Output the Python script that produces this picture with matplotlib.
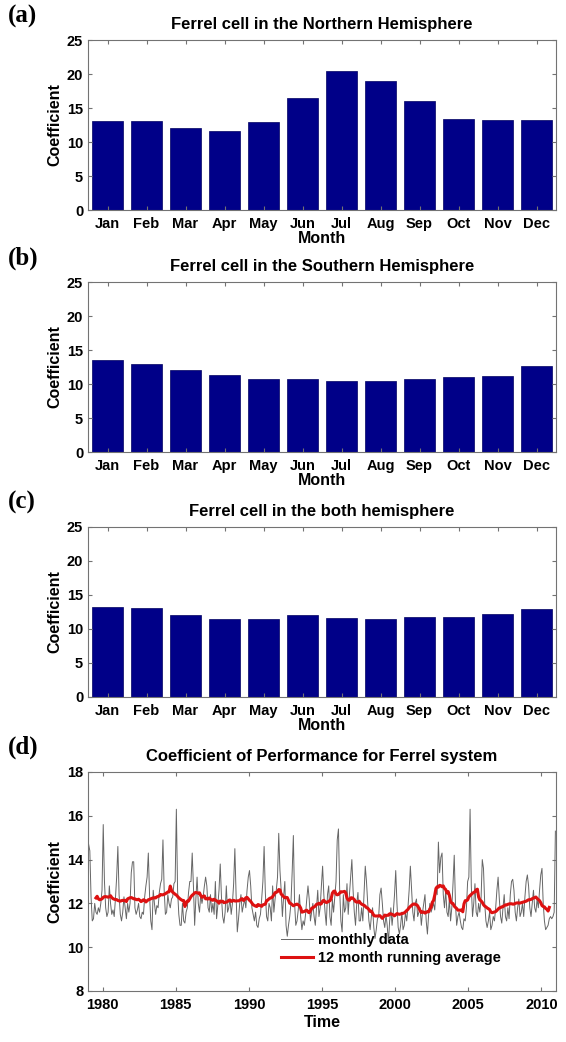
import numpy as np
import pandas as pd
import matplotlib
matplotlib.use("Agg")
import matplotlib.pyplot as plt

months = ["Jan", "Feb", "Mar", "Apr", "May", "Jun", "Jul", "Aug", "Sep", "Oct", "Nov", "Dec"]
nh = [13.1, 13.1, 12.0, 11.6, 13.0, 16.4, 20.4, 18.9, 16.0, 13.4, 13.3, 13.3]
sh = [13.5, 13.0, 12.0, 11.3, 10.8, 10.8, 10.4, 10.4, 10.7, 11.1, 11.2, 12.7]
both = [13.2, 13.1, 12.0, 11.4, 11.5, 12.0, 11.6, 11.4, 11.7, 11.8, 12.2, 13.0]

start_year = 1979
# monthly coefficient, Jan 1979 - Dec 2010 (one row per year)
monthly = [
    14.7, 14.4, 12.3, 11.2, 11.3, 12.0, 11.6, 11.5, 11.8, 11.6, 12.0, 12.6,
    15.6, 13.0, 11.8, 11.4, 11.6, 12.8, 12.0, 11.5, 11.7, 11.4, 12.2, 13.2,
    14.6, 12.4, 11.5, 11.2, 11.6, 12.3, 11.8, 11.3, 12.0, 11.6, 12.0, 13.4,
    13.9, 13.9, 11.8, 11.5, 11.7, 12.0, 11.4, 11.3, 11.6, 11.5, 12.3, 12.8,
    13.2, 14.3, 12.4, 11.2, 10.8, 12.6, 12.0, 11.5, 11.9, 11.8, 12.5, 12.9,
    13.1, 14.9, 12.6, 11.5, 11.6, 12.4, 12.0, 11.8, 12.2, 12.3, 12.9, 13.0,
    16.3, 12.6, 11.5, 11.0, 11.0, 12.0, 11.2, 11.1, 11.6, 11.8, 12.5, 13.0,
    13.0, 14.3, 12.8, 11.0, 12.2, 13.2, 12.0, 11.6, 12.4, 12.0, 12.3, 12.8,
    13.2, 12.8, 11.8, 11.6, 12.4, 11.6, 12.0, 11.5, 13.0, 11.3, 11.9, 12.6,
    13.8, 12.3, 11.4, 11.1, 11.6, 12.8, 11.6, 11.8, 12.2, 11.5, 12.0, 12.9,
    14.5, 12.4, 10.7, 11.3, 12.0, 12.4, 11.6, 11.9, 12.2, 11.8, 12.6, 13.2,
    13.5, 12.8, 11.8, 11.5, 11.2, 11.6, 11.0, 10.9, 11.3, 11.5, 12.2, 13.0,
    14.6, 12.5, 11.4, 11.2, 12.0, 11.8, 11.2, 12.8, 11.6, 12.2, 12.6, 13.2,
    15.2, 13.5, 12.6, 11.4, 12.3, 13.0, 11.0, 10.5, 11.0, 11.4, 12.0, 13.4,
    15.1, 12.0, 11.0, 11.2, 11.7, 12.4, 11.4, 10.8, 11.2, 11.0, 11.5, 12.2,
    12.8, 12.2, 11.2, 11.6, 12.0, 11.4, 11.0, 11.8, 12.6, 11.4, 11.8, 12.8,
    13.7, 12.4, 11.6, 11.0, 12.4, 12.8, 11.4, 11.0, 12.2, 11.6, 12.3, 13.0,
    14.9, 15.4, 12.6, 11.2, 10.7, 12.4, 11.6, 11.8, 12.9, 11.5, 12.4, 13.2,
    14.0, 12.6, 11.6, 11.0, 12.0, 12.5, 11.2, 11.2, 11.8, 11.2, 12.4, 13.7,
    13.0, 12.0, 11.2, 10.8, 11.4, 11.8, 10.9, 10.4, 10.8, 11.3, 11.4, 12.4,
    12.7, 12.0, 11.2, 10.9, 11.5, 11.0, 10.2, 11.2, 11.8, 11.0, 11.6, 12.4,
    13.5, 12.0, 10.9, 10.6, 11.0, 11.6, 10.8, 11.0, 11.6, 11.2, 11.8, 12.6,
    13.7, 12.6, 11.6, 11.2, 12.0, 12.2, 11.4, 11.6, 11.8, 11.0, 11.6, 12.0,
    12.4, 11.2, 10.6, 11.5, 12.0, 11.6, 11.8, 12.0, 11.7, 12.6, 12.4, 14.8,
    13.4, 14.1, 14.3, 12.4, 11.8, 12.6, 11.6, 11.4, 12.2, 11.2, 11.8, 12.9,
    14.2, 12.0, 11.0, 11.4, 11.6, 11.2, 10.9, 10.8, 11.3, 11.2, 11.8, 13.0,
    13.2, 16.3, 12.8, 11.4, 12.0, 12.9, 11.6, 11.4, 12.0, 11.6, 12.2, 14.0,
    13.6, 12.0, 11.2, 10.9, 11.2, 11.6, 10.8, 11.0, 11.4, 11.2, 11.8, 12.6,
    13.2, 12.2, 11.4, 11.1, 11.8, 12.4, 11.4, 11.2, 11.8, 11.3, 12.4, 13.0,
    13.1, 12.6, 11.6, 11.2, 11.8, 12.2, 11.4, 11.6, 12.0, 11.4, 12.3, 13.0,
    13.3, 12.8, 11.8, 11.4, 12.0, 12.6, 11.8, 11.6, 12.2, 11.8, 12.6, 13.3,
    13.6, 12.0, 11.2, 10.8, 10.9, 11.0, 11.3, 11.4, 11.3, 11.4, 11.6, 15.3,
]

plt.rcParams['font.family'] = ['Liberation Sans', 'DejaVu Sans']
plt.rcParams['font.weight'] = 'bold'
plt.rcParams['axes.labelweight'] = 'bold'
plt.rcParams['axes.titleweight'] = 'bold'
plt.rcParams['xtick.direction'] = 'in'
plt.rcParams['ytick.direction'] = 'in'
plt.rcParams['xtick.top'] = True
plt.rcParams['ytick.right'] = True
plt.rcParams['xtick.major.size'] = 3
plt.rcParams['ytick.major.size'] = 3
plt.rcParams['axes.edgecolor'] = '0.45'
plt.rcParams['xtick.color'] = '0.45'
plt.rcParams['ytick.color'] = '0.45'
plt.rcParams['xtick.labelcolor'] = 'black'
plt.rcParams['ytick.labelcolor'] = 'black'

W, H = 566, 1042
fig = plt.figure(figsize=(W / 100, H / 100), dpi=100)


def box(l, t, r, b):
    return [l / W, 1 - b / H, (r - l) / W, (b - t) / H]


def bar_panel(pos, vals, title, tag, tag_y):
    ax = fig.add_axes(box(*pos))
    x = np.arange(1, 13)
    ax.bar(x, vals, width=0.8, color='#000088', edgecolor='#000060', linewidth=0.5)
    ax.set_xlim(0.5, 12.5)
    ax.set_ylim(0, 25)
    ax.set_xticks(x)
    ax.set_xticklabels(months)
    ax.set_yticks(range(0, 26, 5))
    ax.tick_params(labelsize=10.5)
    ax.tick_params(axis='x', pad=5)
    ax.set_xlabel("Month", fontsize=11.5, labelpad=0)
    ax.set_ylabel("Coefficient", fontsize=11.5, labelpad=3)
    ax.set_title(title, fontsize=12, pad=8)
    fig.text(8 / W, 1 - tag_y / H, tag, family='Liberation Serif', fontsize=18,
             fontweight='bold', va='center')
    return ax


bar_panel((88, 40, 556, 210), nh, "Ferrel cell in the Northern Hemisphere", "(a)", 16)
bar_panel((88, 282, 556, 452), sh, "Ferrel cell in the Southern Hemisphere", "(b)", 258)
bar_panel((88, 527, 556, 697), both, "Ferrel cell in the both hemisphere", "(c)", 502)

# time series panel
ax = fig.add_axes(box(88, 772, 556, 991))
t = start_year + (np.arange(len(monthly)) + 0.5) / 12
avg = pd.Series(monthly).rolling(12, center=True).mean()
ax.plot(t, monthly, color='0.4', lw=0.7, label='monthly data')
ax.plot(t, avg, color='#dd1111', lw=2.2, label='12 month running average')
ax.set_xlim(1979, 2011)
ax.set_ylim(8, 18)
ax.set_xticks(range(1980, 2011, 5))
ax.set_yticks(range(8, 19, 2))
ax.tick_params(labelsize=10.5)
ax.tick_params(axis='x', pad=5)
ax.set_xlabel("Time", fontsize=11.5, labelpad=2)
ax.set_ylabel("Coefficient", fontsize=11.5, labelpad=3)
ax.set_title("Coefficient of Performance for Ferrel system", fontsize=12, pad=8)
ax.legend(loc='lower left', bbox_to_anchor=(0.385, 0.06), frameon=False, fontsize=10.5,
          handlelength=2.2, handletextpad=0.3, labelspacing=0.25)
fig.text(8 / W, 1 - 747 / H, "(d)", family='Liberation Serif', fontsize=18,
         fontweight='bold', va='center')

fig.savefig("out.png", dpi=100)
